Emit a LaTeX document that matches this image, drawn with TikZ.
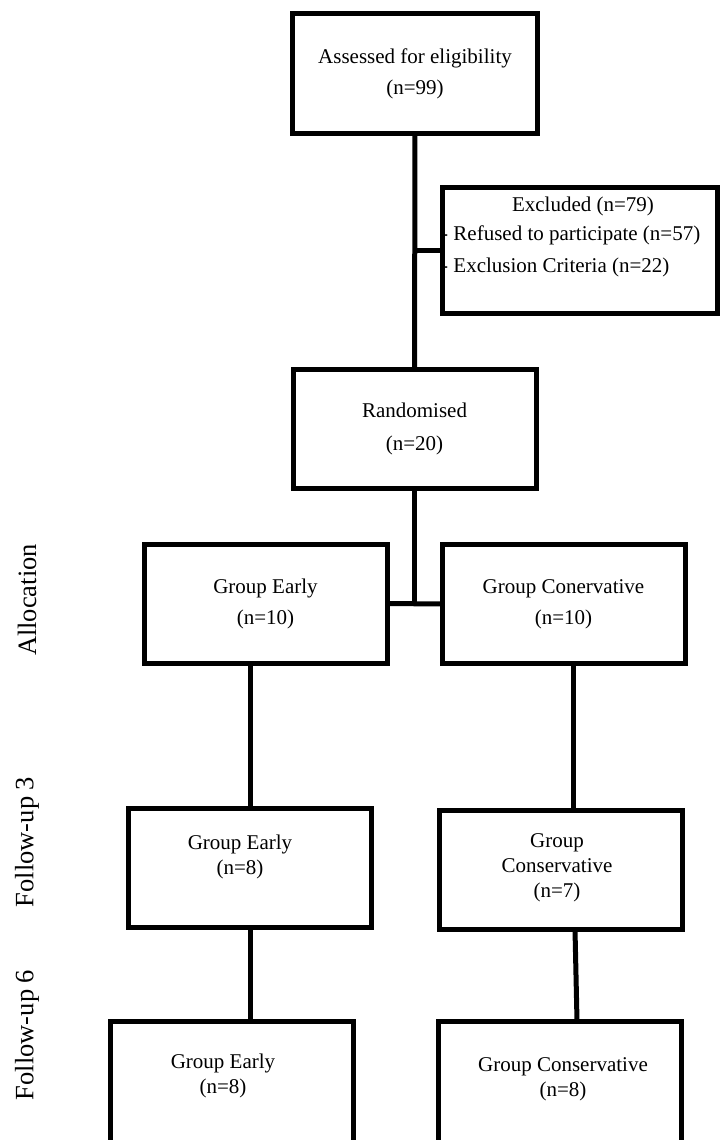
\documentclass[tikz,border=0pt]{standalone}
\usepackage{fontspec}
\setmainfont{Liberation Serif}

\begin{document}
\begin{tikzpicture}[
        x=1pt, y=-1pt,
        box/.style={draw, line width=5pt, rectangle, minimum width=243pt, minimum height=119pt,
                    inner sep=0pt, outer sep=0pt, align=center, font=\fontsize{21}{31}\selectfont},
        txt/.style={inner sep=0pt, align=center, font=\fontsize{21}{25}\selectfont},
        side/.style={rotate=90, inner sep=0pt, font=\fontsize{26.5}{30}\selectfont},
        link/.style={draw, line width=5pt}
    ]
        \useasboundingbox (0,0) rectangle (720,1140);
        \clip (0,0) rectangle (720,1140);

        % enrolment
        \node[box, minimum width=245pt] (assessed) at (415,73.5) {Assessed for eligibility\\(n=99)};
        \node[box, minimum width=275pt, minimum height=126pt] (excluded) at (579.5,250) {};
        \node[txt] (exclhead) at (583,206) {Excluded (n=79)};
        \node[txt, anchor=west, align=left, font=\fontsize{21}{32}\selectfont] (excllist) at (441,251)
            {- Refused to participate (n=57)\\- Exclusion Criteria (n=22)};
        \node[box, font=\fontsize{21}{33}\selectfont] (random) at (414.5,429) {Randomised\\(n=20)};

        % allocation
        \node[box] (allocE) at (265.5,603.5) {Group Early\\(n=10)};
        \node[box] (allocC) at (563.5,604) {Group Conervative\\(n=10)};

        % follow-up 3
        \node[box] (fu3E) at (250,868) {};
        \node[txt] (fu3Etxt) at (240,857) {Group Early\\(n=8)};
        \node[box] (fu3C) at (560.5,870) {};
        \node[txt] (fu3Ctxt) at (557,868) {Group\\Conservative\\(n=7)};

        % follow-up 6, runs off the page
        \node[box, minimum height=160pt, anchor=north] (fu6E) at (232,1021) {};
        \node[txt] (fu6Etxt) at (223,1075.5) {Group Early\\(n=8)};
        \node[box, minimum height=160pt, anchor=north] (fu6C) at (560,1021) {};
        \node[txt] (fu6Ctxt) at (563,1079.5) {Group Conservative\\(n=8)};

        % stage labels
        \node[side] (lblalloc) at (27,600) {Allocation};
        \node[side] (lblfu3) at (27,842) {Follow-up 3};
        \node[side] (lblfu6) at (27,1035) {Follow-up 6};

        \coordinate (split) at (random.south |- allocE.east);

        \path[link] (assessed.south) -- (random.north);
        \path[link] (excluded.west) -- (excluded.west -| assessed.south);
        \path[link] (random.south) -- (split);
        \path[link] (allocE.east) -- (allocC.west);
        \path[link] (fu3E.north) -- (fu3E.north |- allocE.south);
        \path[link] ([xshift=12.5pt]fu3C.north) -- ([xshift=12.5pt]fu3C.north |- allocC.south);
        \path[link] (fu3E.south) -- (fu3E.south |- fu6E.north);
        \path[link] ([xshift=14.5pt]fu3C.south) -- ([xshift=17pt]fu6C.north);
    \end{tikzpicture}
\end{document}
